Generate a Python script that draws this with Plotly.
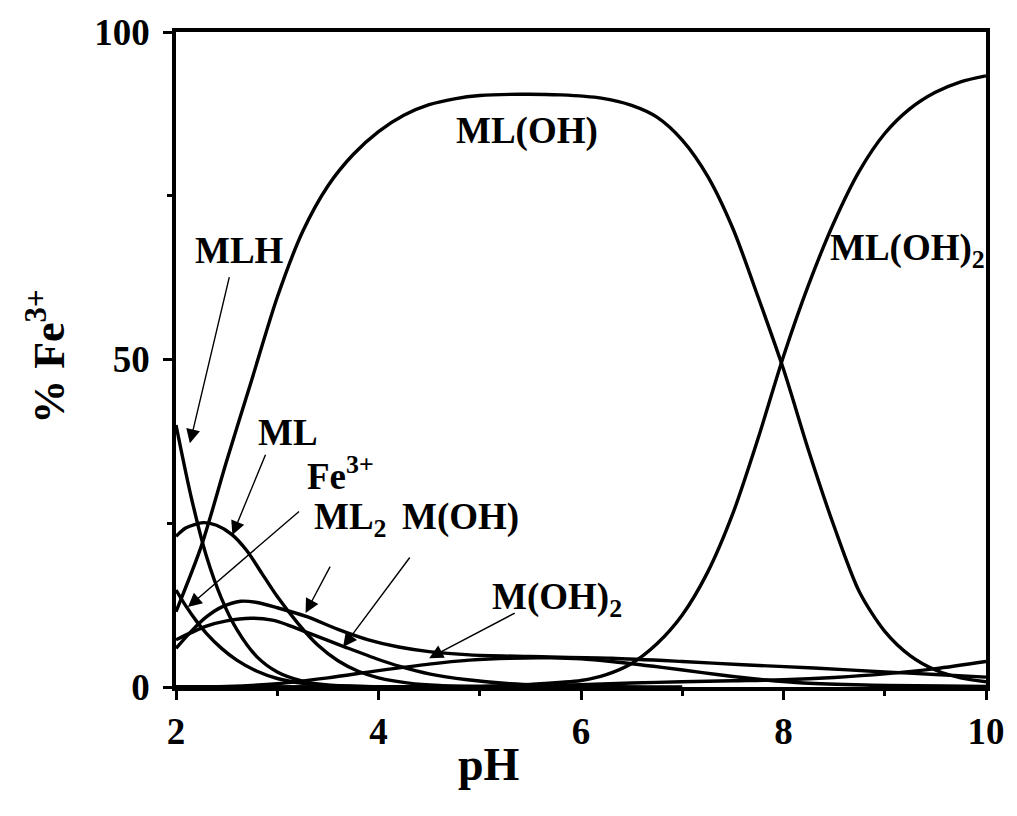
import plotly.graph_objects as go

# ---- data (pH vs % Fe3+) ----
ph_mlh = [2.0, 2.15, 2.3, 2.45, 2.6, 2.8, 3.0, 3.25, 3.5, 4.0, 5.0]
mlh = [40, 29, 20, 13.5, 8.8, 4.6, 2.3, 0.9, 0.3, 0.05, 0]

ph_ml = [2.0, 2.1, 2.27, 2.4, 2.55, 2.7, 2.85, 3.0, 3.2, 3.4, 3.6, 3.8, 4.0, 4.3, 4.6, 5.0, 6.0]
ml = [23, 24.3, 25.1, 24.7, 23.3, 20.8, 17.3, 13.8, 9.8, 6.4, 4.0, 2.4, 1.4, 0.6, 0.25, 0.1, 0]

ph_fe = [2.0, 2.1, 2.2, 2.3, 2.45, 2.6, 2.8, 3.0, 3.25, 3.5, 4.0, 5.0]
fe = [14.8, 12.3, 10.1, 8.2, 5.9, 4.1, 2.4, 1.3, 0.55, 0.2, 0.03, 0]

ph_ml2 = [2.0, 2.15, 2.3, 2.45, 2.64, 2.8, 3.0, 3.3, 3.6, 3.9, 4.2, 4.5, 4.9, 5.5, 6.3, 7.0, 7.6, 8.3, 9.0, 9.5, 10.0]
ml2 = [5.9, 8.5, 10.7, 12.2, 13.1, 12.9, 12.1, 10.7, 8.8, 7.2, 6.1, 5.4, 4.9, 4.65, 4.4, 3.9, 3.4, 2.9, 2.3, 1.9, 1.5]

ph_moh = [2.0, 2.15, 2.3, 2.5, 2.74, 2.95, 3.1, 3.3, 3.67, 4.0, 4.22, 4.5, 4.88, 5.3, 6.0, 7.0]
moh = [7.2, 8.3, 9.3, 10.1, 10.5, 10.2, 9.5, 8.3, 6.1, 4.2, 3.1, 2.0, 1.1, 0.5, 0.12, 0]

ph_moh2 = [2.0, 2.5, 3.0, 3.5, 4.0, 4.5, 4.9, 5.3, 5.7, 6.0, 6.3, 6.8, 7.2, 7.5, 7.8, 8.2, 8.8, 10.0]
moh2 = [0, 0.1, 0.5, 1.4, 2.5, 3.5, 4.1, 4.4, 4.45, 4.3, 3.9, 3.0, 2.2, 1.6, 1.1, 0.6, 0.3, 0.1]

ph_other = [2.0, 4.0, 5.0, 6.0, 6.5, 7.0, 7.5, 8.0, 8.5, 9.0, 9.5, 10.0]
other = [0, 0.02, 0.1, 0.35, 0.6, 0.8, 0.95, 1.1, 1.45, 2.0, 2.8, 3.9]

ph_mloh = [2.0, 2.25, 2.5, 2.75, 3.0, 3.25, 3.5, 3.75, 4.0, 4.25, 4.5, 4.75, 5.0, 5.4, 5.8, 6.2,
           6.5, 6.75, 7.0, 7.25, 7.5, 7.75, 8.0, 8.25, 8.5, 8.75, 9.0, 9.25, 9.5, 9.75, 10.0]
mloh = [11.5, 21.5, 34.5, 47, 59.5, 69.5, 76.5, 81.3, 84.8, 87.3, 88.9, 89.8, 90.3, 90.5, 90.4, 89.9,
        88.8, 87, 83.5, 78, 70, 59.5, 48.5, 36, 24.5, 14.5, 8.5, 4.8, 2.6, 1.4, 0.8]

ph_mloh2 = [2.0, 4.0, 5.0, 5.5, 6.0, 6.25, 6.5, 6.75, 7.0, 7.25, 7.5, 7.75, 8.0, 8.25, 8.5, 8.75,
            9.0, 9.25, 9.5, 9.75, 10.0]
mloh2 = [0, 0, 0.05, 0.4, 1.0, 1.9, 3.6, 6.6, 11, 17.5, 26.5, 38, 50.5, 61.5, 71, 78.8,
         84.5, 88.3, 90.8, 92.4, 93.3]

series = [
    ("MLH", ph_mlh, mlh),
    ("ML", ph_ml, ml),
    ("Fe3+", ph_fe, fe),
    ("ML2", ph_ml2, ml2),
    ("M(OH)", ph_moh, moh),
    ("M(OH)2", ph_moh2, moh2),
    ("other", ph_other, other),
    ("ML(OH)", ph_mloh, mloh),
    ("ML(OH)2", ph_mloh2, mloh2),
]

# labels: (text, pH, %)
labels = [
    ("MLH", 2.63, 66.6),
    ("ML(OH)", 5.47, 84.9),
    ("ML(OH)<sub>2</sub>", 9.22, 66.6),
    ("ML", 3.11, 38.9),
    ("Fe<sup>3+</sup>", 3.62, 32.6),
    ("ML<sub>2</sub>", 3.72, 25.6),
    ("M(OH)", 4.81, 25.9),
    ("M(OH)<sub>2</sub>", 5.76, 13.4),
]

# arrows: (tip pH, tip %, tail pH, tail %)
arrows = [
    (2.137, 37.2, 2.53, 62.8),
    (2.557, 23.2, 2.89, 35.7),
    (2.117, 12.2, 3.23, 27.0),
    (3.28, 11.3, 3.53, 18.6),
    (3.65, 6.1, 4.32, 20.0),
    (4.50, 4.4, 5.36, 11.4),
]

FONT = "Liberation Serif"

fig = go.Figure()
for name, x, y in series:
    fig.add_trace(go.Scatter(
        x=x, y=y, mode="lines", name=name, showlegend=False,
        line=dict(color="black", width=3.4, shape="spline", smoothing=0.8),
        hoverinfo="skip"))

annotations = []
for text, x, y in labels:
    annotations.append(dict(
        x=x, y=y, xref="x", yref="y", text=text, showarrow=False,
        font=dict(family=FONT, size=37, color="black", weight="bold"),
        xanchor="center", yanchor="middle"))

for tx, ty, sx, sy in arrows:
    annotations.append(dict(
        x=tx, y=ty, xref="x", yref="y", ax=sx, ay=sy, axref="x", ayref="y",
        text="", showarrow=True, arrowhead=2, arrowsize=2.0, arrowwidth=1.4,
        arrowcolor="black"))

annotations.append(dict(
    x=(492 - 176) / 818, y=(687 - 765) / 656, xref="paper", yref="paper",
    text="pH", showarrow=False, xanchor="center", yanchor="middle",
    font=dict(family=FONT, size=46, color="black", weight="bold")))
annotations.append(dict(
    x=(45 - 176) / 818, y=(687 - 356) / 656, xref="paper", yref="paper",
    text="% Fe<sup>3+</sup>", showarrow=False, xanchor="center", yanchor="middle",
    textangle=-90,
    font=dict(family=FONT, size=44, color="black", weight="bold")))

axis_common = dict(
    showgrid=False, zeroline=False, showline=True, linecolor="black", linewidth=3.5,
    mirror=True, ticks="outside", ticklen=9, tickwidth=3, tickcolor="black",
    tickfont=dict(family=FONT, size=37, color="black", weight="bold"),
)

fig.update_xaxes(range=[2, 10], tick0=2, dtick=2,
                 minor=dict(ticks="outside", ticklen=5, tickwidth=2.5, tickcolor="black", dtick=1, tick0=2),
                 **axis_common)
fig.update_yaxes(range=[0, 100], tick0=0, dtick=50,
                 minor=dict(ticks="outside", ticklen=5, tickwidth=2.5, tickcolor="black", dtick=25, tick0=0),
                 ticklabelstandoff=6, **axis_common)

fig.update_layout(
    width=1017, height=816,
    margin=dict(l=176, r=23, t=31, b=129),
    plot_bgcolor="white", paper_bgcolor="white",
    annotations=annotations,
)

fig.write_html("out.html")
